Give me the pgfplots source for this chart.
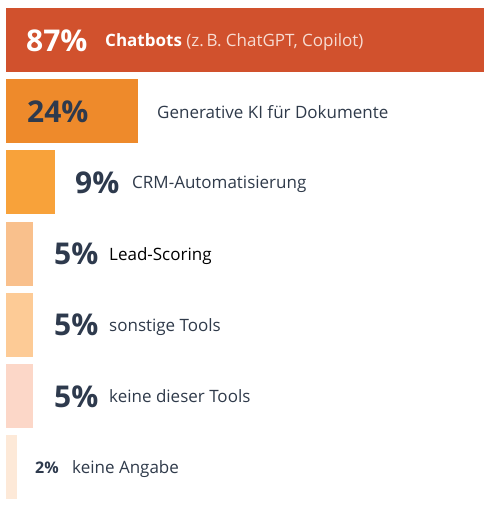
\documentclass[border=0pt]{standalone}
\usepackage{pgfplots}
\pgfplotsset{compat=1.18}
\usepackage{fontspec}
\setmainfont{Open Sans}
\definecolor{c1}{HTML}{D1512D}
\definecolor{c2}{HTML}{EE8A2B}
\definecolor{c3}{HTML}{F8A23A}
\definecolor{c4}{HTML}{F9C08C}
\definecolor{c5}{HTML}{FDCB96}
\definecolor{c6}{HTML}{FCD7C8}
\definecolor{c7}{HTML}{FDE9D8}
\definecolor{numc}{HTML}{2E3A4D}
\definecolor{labc}{HTML}{2F3A4A}
\definecolor{subc}{HTML}{F7DCD2}
\begin{document}
\begin{tikzpicture}
\path[use as bounding box] (0,0) rectangle (491pt,508pt);
\begin{axis}[
  at={(6pt,5.2pt)}, anchor=south west,
  scale only axis, width=478pt, height=498.4pt,
  xmin=0, xmax=87, ymin=-0.5, ymax=6.5, y dir=reverse,
  hide axis, clip=false,
]
\addplot[xbar, bar width=64pt, bar shift=0pt, draw=none, fill=c1] coordinates {(87,0)};
\addplot[xbar, bar width=64pt, bar shift=0pt, draw=none, fill=c2] coordinates {(24,1)};
\addplot[xbar, bar width=64pt, bar shift=0pt, draw=none, fill=c3] coordinates {(9,2)};
\addplot[xbar, bar width=64pt, bar shift=0pt, draw=none, fill=c4] coordinates {(5,3)};
\addplot[xbar, bar width=64pt, bar shift=0pt, draw=none, fill=c5] coordinates {(5,4)};
\addplot[xbar, bar width=64pt, bar shift=0pt, draw=none, fill=c6] coordinates {(5,5)};
\addplot[xbar, bar width=64pt, bar shift=0pt, draw=none, fill=c7] coordinates {(2,6)};
\tikzset{num/.style={anchor=base west, inner sep=0pt, font=\bfseries\fontsize{30}{30}\selectfont, text=numc},
         lab/.style={anchor=base west, inner sep=0pt, font=\fontsize{17}{17}\selectfont, text=labc}}
% row 1
\node[num, text=white] at ([xshift=20pt,yshift=-11pt]axis cs:0,0) {87\%};
\node[lab, text=subc] at ([xshift=99pt,yshift=-6.5pt]axis cs:0,0) {\textbf{\textcolor{white}{Chatbots}} (z.\,B. ChatGPT, Copilot)};
% row 2
\node[num] at ([xshift=21pt,yshift=-11.5pt]axis cs:0,1) {24\%};
\node[lab] at ([xshift=151pt,yshift=-7pt]axis cs:0,1) {Generative KI für Dokumente};
% row 3
\node[num] at ([xshift=69pt,yshift=-11pt]axis cs:0,2) {9\%};
\node[lab] at ([xshift=126pt,yshift=-6.5pt]axis cs:0,2) {CRM-Automatisierung};
% row 4
\node[num] at ([xshift=48pt,yshift=-11pt]axis cs:0,3) {5\%};
\node[lab, text=black] at ([xshift=103pt,yshift=-6.5pt]axis cs:0,3) {Lead-Scoring};
% row 5
\node[num] at ([xshift=48pt,yshift=-11pt]axis cs:0,4) {5\%};
\node[lab] at ([xshift=103pt,yshift=-6.5pt]axis cs:0,4) {sonstige Tools};
% row 6
\node[num] at ([xshift=48pt,yshift=-11pt]axis cs:0,5) {5\%};
\node[lab] at ([xshift=103pt,yshift=-6.5pt]axis cs:0,5) {keine dieser Tools};
% row 7
\node[num, font=\bfseries\fontsize{16}{16}\selectfont] at ([xshift=29pt,yshift=-6pt]axis cs:0,6) {2\%};
\node[lab] at ([xshift=66pt,yshift=-6.5pt]axis cs:0,6) {keine Angabe};
\end{axis}
\end{tikzpicture}
\end{document}
